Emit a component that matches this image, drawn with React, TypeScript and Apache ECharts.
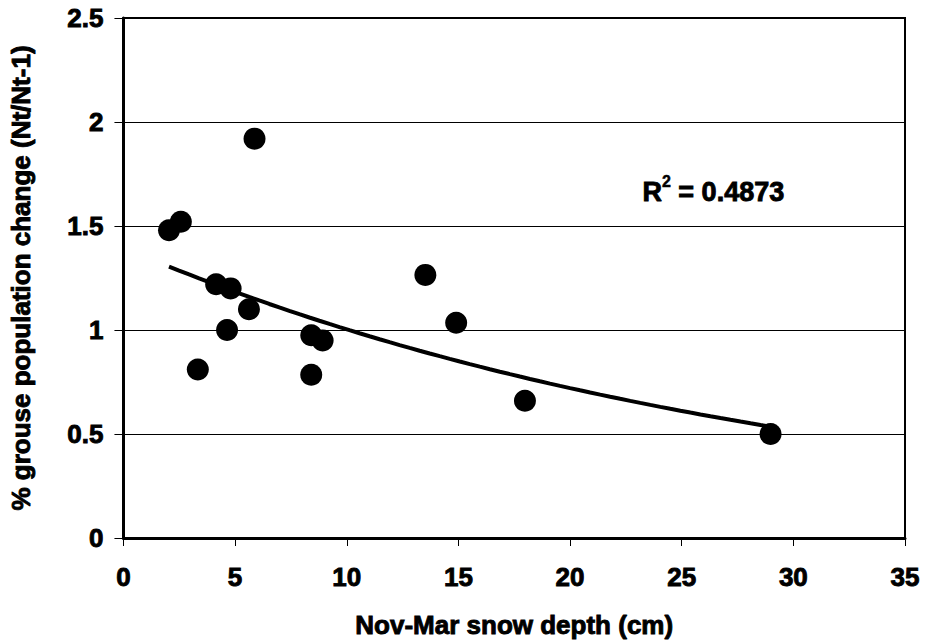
import React, { useEffect, useRef } from "react";
import * as echarts from "echarts";

// Nov-Mar snow depth (cm)
const snowDepth = [2.04, 2.57, 5.87, 4.15, 4.8, 5.62, 4.64, 3.33, 8.41, 8.92, 8.41, 13.52, 14.9, 17.98, 28.98];
// % grouse population change (Nt/Nt-1)
const popChange = [1.48, 1.52, 1.92, 1.22, 1.2, 1.1, 1.0, 0.81, 0.975, 0.95, 0.785, 1.265, 1.035, 0.66, 0.5];
const xTicks = [0, 5, 10, 15, 20, 25, 30, 35];
const yTicks = [0, 0.5, 1, 1.5, 2, 2.5];
const rSquaredText = "0.4873";

const FONT = "Liberation Sans, Arial, sans-serif";
const heavy = { fontFamily: FONT, fontWeight: "bold" as const, color: "#000", textBorderColor: "#000", textBorderWidth: 0.9 };

// Exponential least-squares trendline (as a spreadsheet would fit), derived from the data
function exponentialTrend(xs: number[], ys: number[]) {
  const n = xs.length;
  const ly = ys.map((v) => Math.log(v));
  const mx = xs.reduce((a, b) => a + b, 0) / n;
  const my = ly.reduce((a, b) => a + b, 0) / n;
  let sxy = 0;
  let sxx = 0;
  for (let i = 0; i < n; i++) {
    sxy += (xs[i] - mx) * (ly[i] - my);
    sxx += (xs[i] - mx) * (xs[i] - mx);
  }
  const b = sxy / sxx;
  const lnA = my - b * mx;
  const lo = Math.min(...xs);
  const hi = Math.max(...xs);
  const pts: number[][] = [];
  const steps = 60;
  for (let i = 0; i <= steps; i++) {
    const x = lo + ((hi - lo) * i) / steps;
    pts.push([x, Math.exp(lnA + b * x)]);
  }
  return pts;
}

export default function App() {
  const ref = useRef<HTMLDivElement>(null);
  useEffect(() => {
    document.body.style.margin = "0";
    if (!ref.current) return;
    const chart = echarts.init(ref.current, undefined, { renderer: "svg" });
    const points = snowDepth.map((x, i) => [x, popChange[i]]);
    const trend = exponentialTrend(snowDepth, popChange);
    chart.setOption({
      animation: false,
      backgroundColor: "#ffffff",
      grid: {
        left: 120,
        right: 20,
        top: 18,
        bottom: 106,
        show: true,
        borderColor: "#000",
        borderWidth: 2,
      },
      xAxis: {
        type: "value",
        min: xTicks[0],
        max: xTicks[xTicks.length - 1],
        interval: 5,
        name: "Nov-Mar snow depth (cm)",
        nameLocation: "middle",
        nameGap: 74,
        nameTextStyle: { ...heavy, fontSize: 26 },
        axisLine: { show: true, onZero: false, lineStyle: { color: "#000", width: 3 } },
        axisTick: { show: true, inside: false, length: 8, lineStyle: { color: "#000", width: 1 } },
        axisLabel: { ...heavy, fontSize: 26, margin: 26 },
        splitLine: { show: false },
      },
      yAxis: {
        type: "value",
        min: yTicks[0],
        max: yTicks[yTicks.length - 1],
        interval: 0.5,
        name: "% grouse population change (Nt/Nt-1)",
        nameLocation: "middle",
        nameGap: 89,
        nameTextStyle: { ...heavy, fontSize: 26 },
        axisLine: { show: true, onZero: false, lineStyle: { color: "#000", width: 3 } },
        axisTick: { show: true, inside: false, length: 9, lineStyle: { color: "#000", width: 1 } },
        axisLabel: { ...heavy, fontSize: 26, margin: 20 },
        splitLine: { show: true, lineStyle: { color: "#000", width: 1 } },
      },
      graphic: [
        {
          type: "text",
          left: 642,
          top: 173,
          style: {
            text: "{r|R}{s|2}{r| = " + rSquaredText + "}",
            rich: {
              r: { fontFamily: FONT, fontWeight: "bold", fontSize: 27, fill: "#000", stroke: "#000", lineWidth: 0.9, verticalAlign: "bottom", lineHeight: 32 },
              s: { fontFamily: FONT, fontWeight: "bold", fontSize: 16, fill: "#000", stroke: "#000", lineWidth: 0.5, verticalAlign: "top", lineHeight: 32 },
            },
          },
        },
      ],
      series: [
        {
          type: "line",
          data: trend,
          showSymbol: false,
          smooth: false,
          lineStyle: { color: "#000", width: 4 },
          z: 2,
        },
        {
          type: "scatter",
          data: points,
          symbol: "circle",
          symbolSize: 22,
          itemStyle: { color: "#000", opacity: 1 },
          z: 3,
        },
      ],
    });
    return () => chart.dispose();
  }, []);
  return <div ref={ref} style={{ width: 925, height: 644 }} />;
}
